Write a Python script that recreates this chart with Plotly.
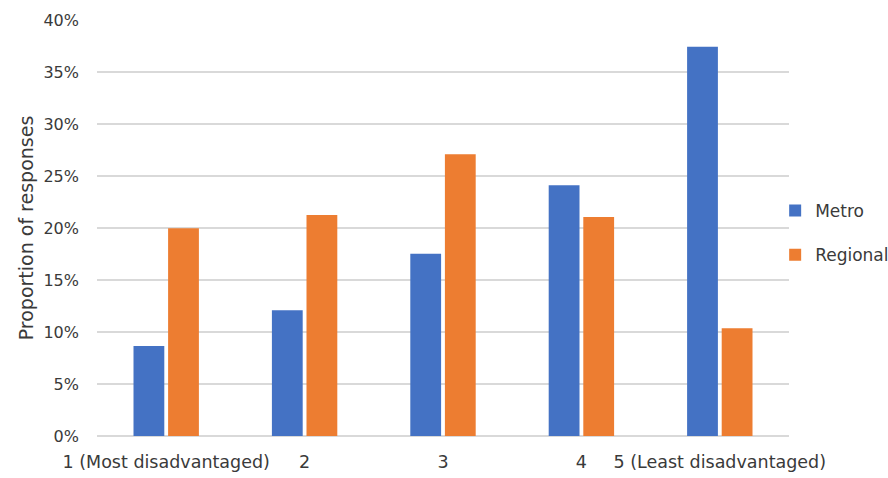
import plotly.graph_objects as go

# Survey responses by socio-economic quintile
categories = ["1 (Most disadvantaged)", "2", "3", "4", "5 (Least disadvantaged)"]
metro = [0.0865, 0.1208, 0.1753, 0.2410, 0.3742]
regional = [0.1997, 0.2125, 0.2709, 0.2106, 0.1035]
y_ticks = [0, 0.05, 0.10, 0.15, 0.20, 0.25, 0.30, 0.35, 0.40]

FONT = "DejaVu Sans"
TEXT = "#3A3A3A"

fig = go.Figure()
fig.add_trace(go.Bar(name="Metro", x=categories, y=metro,
                     marker=dict(color="#4472C4", line=dict(width=0)),
                     legendgroup="m"))
fig.add_trace(go.Bar(name="Regional", x=categories, y=regional,
                     marker=dict(color="#ED7D31", line=dict(width=0)),
                     legendgroup="r"))

fig.update_layout(
    width=888, height=478,
    margin=dict(l=97, r=99, t=20, b=42, autoexpand=False),
    paper_bgcolor="white", plot_bgcolor="white",
    font=dict(family=FONT, size=16, color=TEXT),
    barmode="group", bargap=0.5, bargroupgap=0.11,
    legend=dict(x=0.980, xanchor="left", y=0.488, yanchor="middle",
                font=dict(size=17, color=TEXT), itemwidth=30,
                tracegroupgap=19, bgcolor="rgba(0,0,0,0)"),
    xaxis=dict(showgrid=False, showline=False, ticks="",
               ticklabelstandoff=13, tickfont=dict(size=17.5, color=TEXT)),
    yaxis=dict(range=[0, 0.40], tickvals=y_ticks, tickformat=".0%",
               showgrid=True, gridcolor="#D9D9D9", gridwidth=1.5,
               zeroline=True, zerolinecolor="#D9D9D9", zerolinewidth=1.5,
               ticks="", ticklabelstandoff=17,
               tickfont=dict(size=16, color=TEXT),
               title=dict(text="Proportion of responses",
                          font=dict(size=19, color=TEXT), standoff=4)),
)

fig.write_html("out.html")
